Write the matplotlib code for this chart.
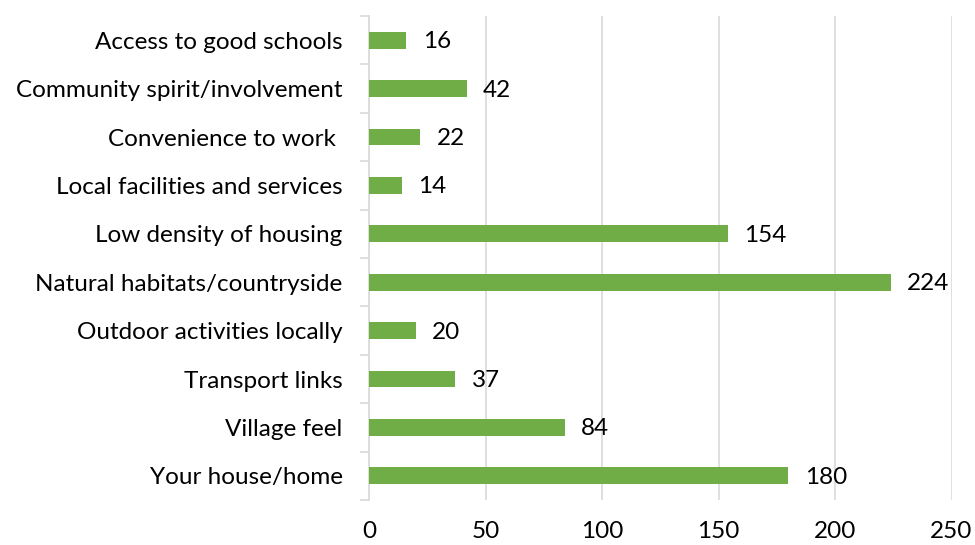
import matplotlib.pyplot as plt
import numpy as np

categories = [
    "Access to good schools",
    "Community spirit/involvement",
    "Convenience to work ",
    "Local facilities and services",
    "Low density of housing",
    "Natural habitats/countryside",
    "Outdoor activities locally",
    "Transport links",
    "Village feel",
    "Your house/home",
]
counts = [16, 42, 22, 14, 154, 224, 20, 37, 84, 180]
xticks = [0, 50, 100, 150, 200, 250]

BAR_COLOR = "#70AD47"
GRID_COLOR = "#D9D9D9"
FS = 17.5
plt.rcParams["font.family"] = ["Lato", "DejaVu Sans"]

fig = plt.figure(figsize=(9.75, 5.45), dpi=100)
ax = fig.add_axes([369 / 975, 45 / 545, (951.5 - 369) / 975, 484 / 545])

y = np.arange(len(categories))
ax.barh(y, counts, height=0.35, color=BAR_COLOR, zorder=3)
for yi, v in zip(y, counts):
    ax.text(v + 7, yi + 0.03, str(v), va="center", ha="left", fontsize=FS, color="black")

ax.set_xlim(0, 250)
ax.set_ylim(len(categories) - 0.5, -0.5)
ax.set_xticks(xticks)
ax.set_yticks(y)
ax.set_yticklabels(categories)
ax.set_yticks(np.arange(len(categories) + 1) - 0.5, minor=True)
ax.tick_params(axis="y", which="major", length=0, pad=19, labelsize=FS)
ax.tick_params(axis="y", which="minor", length=6.5, color=GRID_COLOR, width=1.2)
ax.tick_params(axis="x", length=0, pad=15, labelsize=FS)
ax.grid(axis="x", color=GRID_COLOR, linewidth=1.2, zorder=0)
for side in ["top", "right", "bottom"]:
    ax.spines[side].set_visible(False)
ax.spines["left"].set_color(GRID_COLOR)
ax.spines["left"].set_linewidth(1.2)

fig.savefig("out.png", dpi=100)
